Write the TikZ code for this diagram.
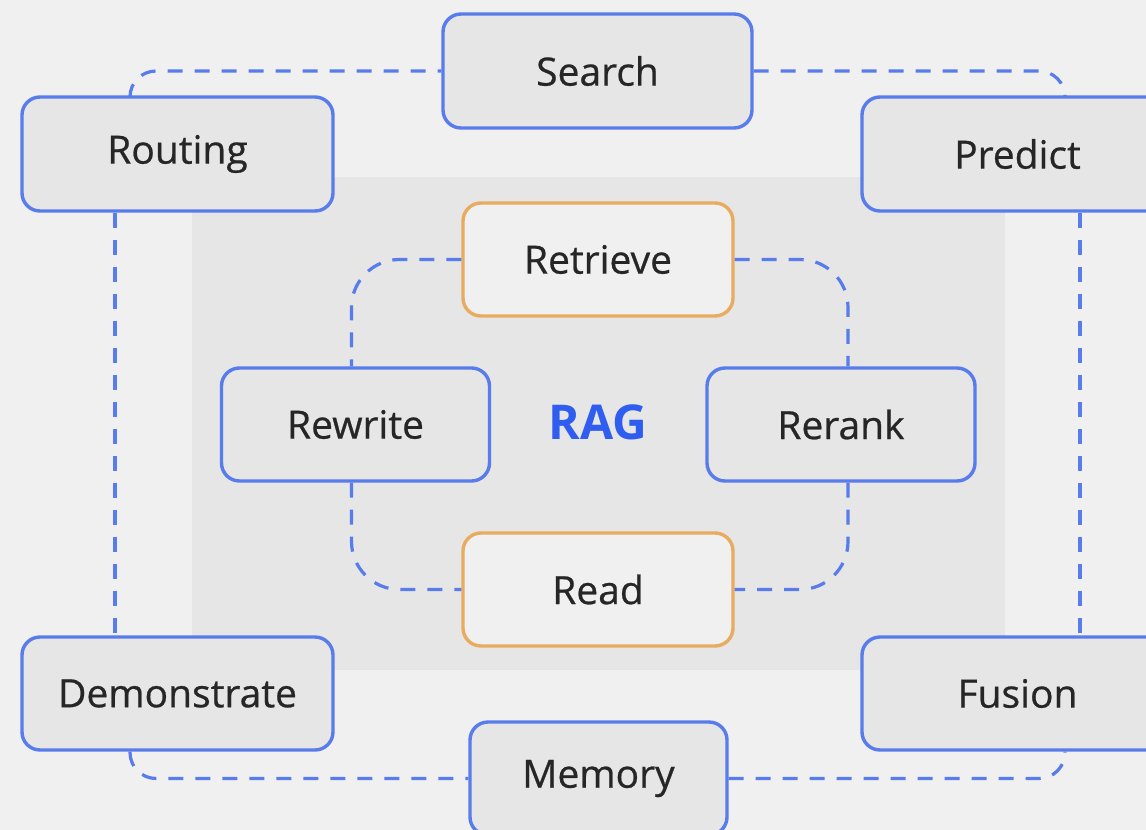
\documentclass[tikz,border=0pt]{standalone}
\usepackage{fontspec}
\setmainfont{Open Sans}
\newfontfamily\medfont[FakeBold=0.6]{Open Sans}
\usetikzlibrary{calc}
\definecolor{bgc}{HTML}{F0F0F0}
\definecolor{panel}{HTML}{E6E6E6}
\definecolor{bluec}{HTML}{587CEC}
\definecolor{orangec}{HTML}{E8AC60}
\definecolor{ragblue}{HTML}{2F5DF0}
\definecolor{txt}{HTML}{262626}
\tikzset{
  bluebox/.style={draw=bluec, line width=1.7pt, fill=panel, rounded corners=9pt,
    text=txt, font=\medfont\fontsize{19.5}{22}\selectfont, inner sep=0pt},
  orangebox/.style={draw=orangec, line width=1.7pt, fill=bgc, rounded corners=9pt,
    text=txt, font=\medfont\fontsize{19.5}{22}\selectfont, inner sep=0pt,
    minimum width=135pt, minimum height=56.5pt},
  conn/.style={draw=bluec, line width=1.6pt, dash pattern=on 7.5pt off 6pt},
}
\begin{document}
\begin{tikzpicture}[x=0.5pt,y=-0.5pt]
\useasboundingbox (0,0) rectangle (1146,830);
\clip (0,0) rectangle (1146,830);
\fill[bgc] (0,0) rectangle (1146,830);
\fill[panel] (192,177) rectangle (1005,670);

% outer ring
\node[bluebox, minimum width=154.5pt, minimum height=57pt] (search) at (597.5,71) {Search};
\node[bluebox, minimum width=155.5pt, minimum height=57pt] (routing) at (177.5,154) {Routing};
\node[bluebox, minimum width=155.5pt, minimum height=57pt] (predict) at (1017.5,154) {Predict};
\node[bluebox, minimum width=155.5pt, minimum height=56.5pt] (demo) at (177.5,693.5) {Demonstrate};
\node[bluebox, minimum width=155.5pt, minimum height=56.5pt] (fusion) at (1017.5,693.5) {Fusion};
\node[bluebox, minimum width=128.5pt, minimum height=56.5pt] (memory) at (598.5,778.5) {Memory};

% inner ring
\node[orangebox] (retrieve) at (598,259.5) {Retrieve};
\node[orangebox] (read) at (598,589.5) {Read};
\node[bluebox, minimum width=134pt, minimum height=56.5pt] (rewrite) at (355.5,424.5) {Rewrite};
\node[bluebox, minimum width=134pt, minimum height=56.5pt] (rerank) at (841,424.5) {Rerank};
\node[text=ragblue, font=\fontsize{24}{28}\bfseries] (rag) at (598,422) {RAG};

% outer connectors
\draw[conn, rounded corners=13pt] ($(routing.north)+(-47.5,0)$) |- (search.west);
\draw[conn, rounded corners=13pt] (search.east) -| ($(predict.north)+(47.5,0)$);
\draw[conn] ($(routing.south)+(-62.5,0)$) -- ($(demo.north)+(-62.5,0)$);
\draw[conn] ($(predict.south)+(62.5,0)$) -- ($(fusion.north)+(62.5,0)$);
\draw[conn, rounded corners=13pt] ($(demo.south)+(-47.5,0)$) |- (memory.west);
\draw[conn, rounded corners=13pt] (memory.east) -| ($(fusion.south)+(47.5,0)$);

% inner connectors
\draw[conn, rounded corners=24pt] (retrieve.west) -| ($(rewrite.north)+(-4,0)$);
\draw[conn, rounded corners=24pt] (retrieve.east) -| ($(rerank.north)+(7,0)$);
\draw[conn, rounded corners=24pt] ($(rewrite.south)+(-4,0)$) |- (read.west);
\draw[conn, rounded corners=24pt] ($(rerank.south)+(7,0)$) |- (read.east);
\end{tikzpicture}
\end{document}
